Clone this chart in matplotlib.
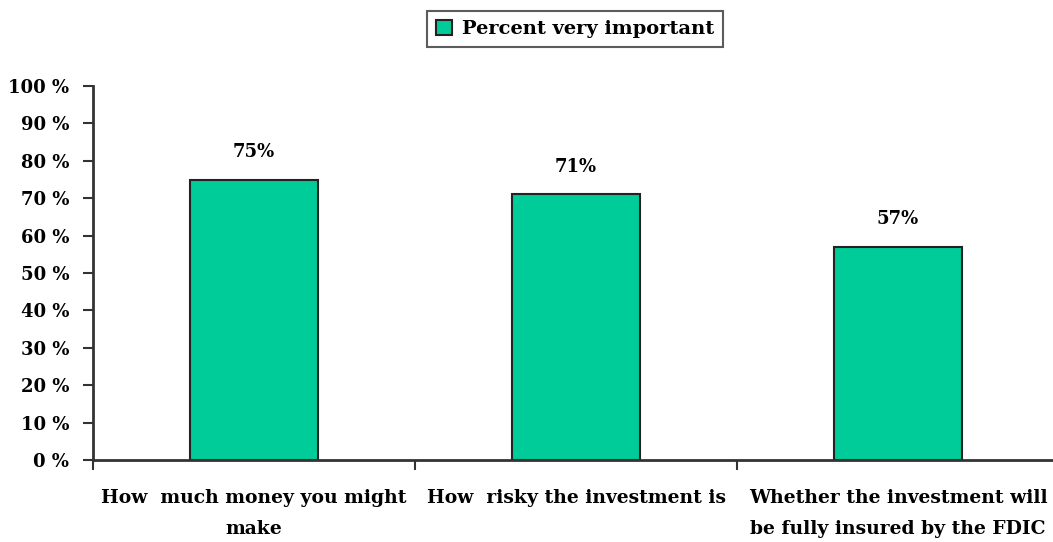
import numpy as np
import matplotlib.pyplot as plt
from matplotlib.ticker import FixedLocator, NullFormatter

# data
categories = ["How  much money you might\nmake",
              "How  risky the investment is",
              "Whether the investment will\nbe fully insured by the FDIC"]
values = [75, 71, 57]
series_name = "Percent very important"
yticks = [0, 10, 20, 30, 40, 50, 60, 70, 80, 90, 100]

plt.rcParams['font.family'] = ['DejaVu Serif']
plt.rcParams['font.weight'] = 'bold'

fig = plt.figure(figsize=(10.53, 5.42), dpi=100)
ax = fig.add_axes([93/1053, 1-460/542, (1059-93)/1053, (460-86)/542])

pos = np.arange(len(values)) + 0.5
bars = ax.bar(pos, values, width=0.4, color='#00CC99', edgecolor='#222222',
              linewidth=1.5, label=series_name)

for p, v in zip(pos, values):
    ax.text(p, v + 5, f"{v}%", ha='center', va='bottom', fontsize=13,
            fontweight='bold')

ax.set_xlim(0, len(values))
ax.set_ylim(0, 100)
ax.set_yticks(yticks)
ax.set_yticklabels([f"{t} %" for t in yticks], fontsize=13, fontweight='bold')

# ticks between categories, labels centred under bars
ax.xaxis.set_major_locator(FixedLocator(np.arange(len(values) + 1)))
ax.xaxis.set_major_formatter(NullFormatter())
ax.xaxis.set_minor_locator(FixedLocator(pos))
ax.set_xticklabels(categories, minor=True, fontsize=13.5, fontweight='bold',
                   linespacing=1.95)
ax.tick_params(axis='x', which='minor', length=0, pad=21)
ax.tick_params(axis='x', which='major', length=7, width=1.5, color='#333333')
ax.tick_params(axis='y', length=7, width=1.5, color='#333333', pad=10)

for s in ['top', 'right']:
    ax.spines[s].set_visible(False)
for s in ['left', 'bottom']:
    ax.spines[s].set_linewidth(2)
    ax.spines[s].set_color('#333333')

leg = fig.legend(handles=[bars], labels=[series_name], loc='center',
                 bbox_to_anchor=(575/1053, 1-29/542), fancybox=False,
                 edgecolor='#333333', handlelength=0.8, handleheight=0.8,
                 handletextpad=0.5, borderpad=0.45, borderaxespad=0,
                 prop={'size': 14, 'weight': 'bold'})
leg.get_frame().set_linewidth(1.5)

fig.savefig("out.png", dpi=100)
